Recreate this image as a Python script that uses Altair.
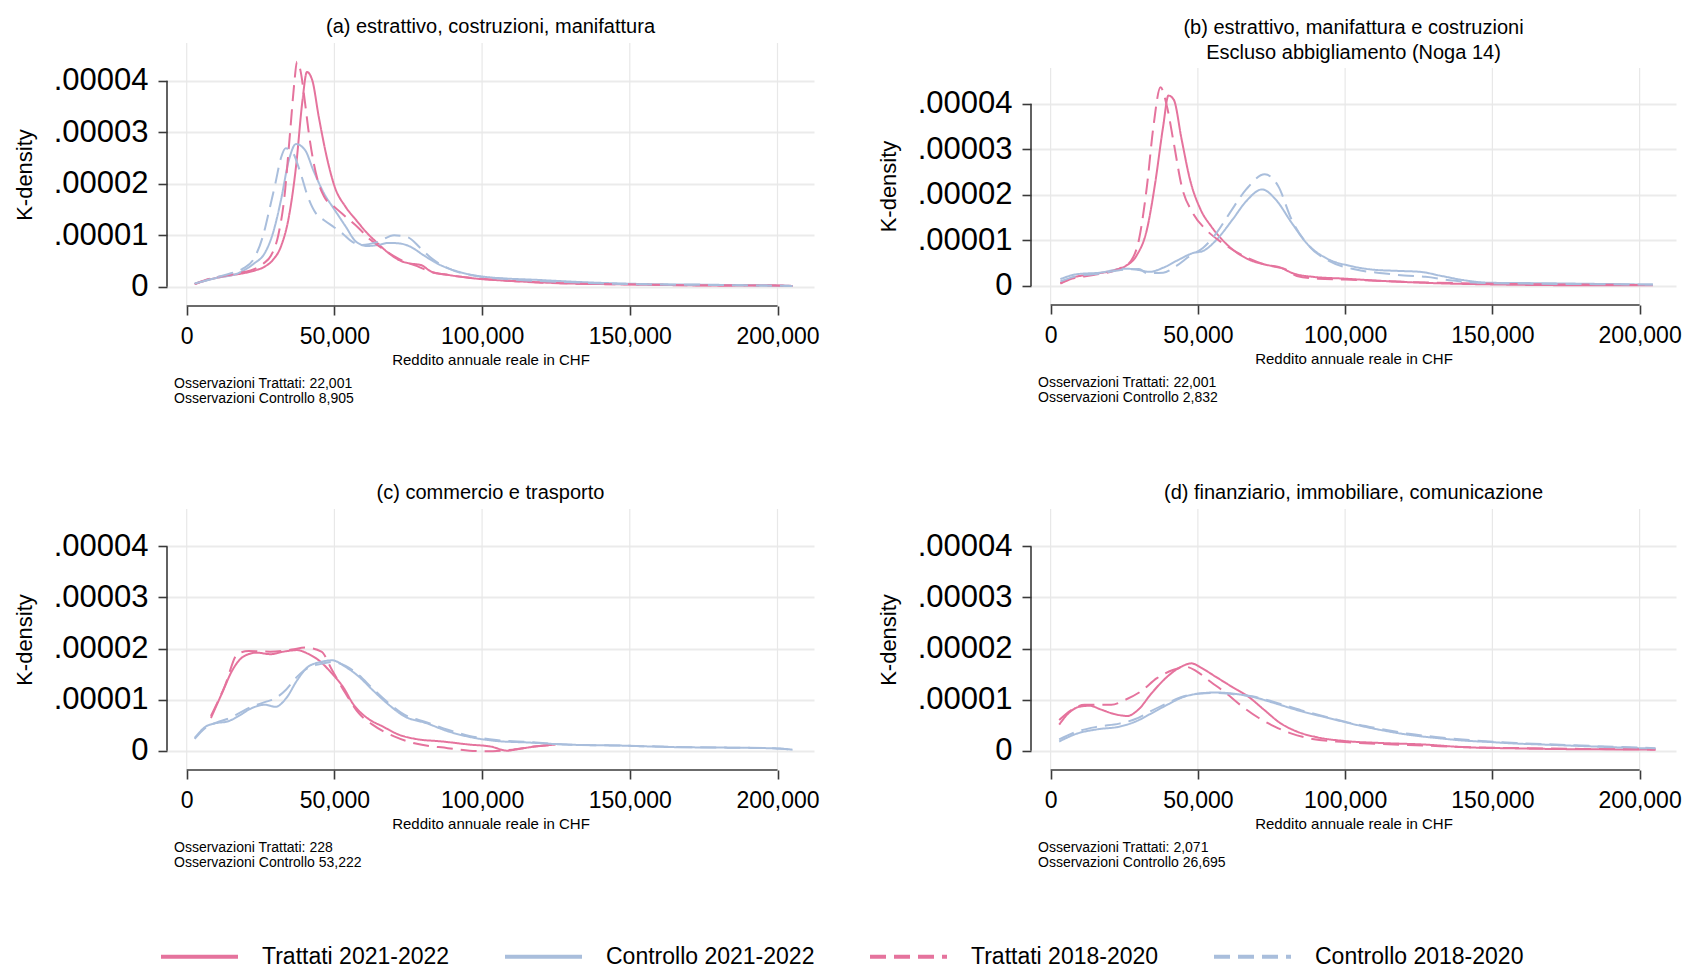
import altair as alt
import pandas as pd

# ---------------- legend / series ----------------
SERIE = ["Trattati 2021-2022", "Controllo 2021-2022", "Trattati 2018-2020", "Controllo 2018-2020"]
COLORI = ["#E5739D", "#A9BEDC", "#E5739D", "#A9BEDC"]
TRATTI = [[1, 0], [1, 0], [16, 8], [16, 8]]

X_TICKS = [0, 50000, 100000, 150000, 200000]
Y_TICKS = [0, 0.00001, 0.00002, 0.00003, 0.00004]
X_TITLE = "Reddito annuale reale in CHF"
Y_TITLE = "K-density"

# densities below are in units of 1e-6
# ---------------- panel (a) ----------------
a_tr21_x = [2700, 6400, 13700, 19100, 22800, 26400, 29200, 31900, 34600, 37000, 39200, 40700, 42500, 44700, 47400, 50100, 53800, 57400, 61100, 64700, 68400, 72900, 75600, 79300, 82900, 88400, 97500, 110300, 128500, 146800, 165000, 183200, 194200, 205100]
a_tr21_y = [0.5, 1.2, 2.1, 2.6, 3.1, 3.9, 5.2, 7.8, 13.6, 23.3, 36.2, 41.7, 40.1, 33.0, 25.2, 19.4, 15.5, 12.9, 10.4, 8.4, 6.5, 4.9, 4.5, 4.2, 2.9, 2.3, 1.6, 1.1, 0.65, 0.45, 0.3, 0.2, 0.3, 0.15]
a_co21_x = [2700, 10000, 17300, 22800, 26400, 29200, 31900, 34600, 37000, 40100, 42800, 46500, 50100, 53800, 57400, 61100, 64700, 68400, 72000, 75600, 80200, 84800, 92100, 101200, 119400, 137600, 155900, 174100, 192300, 205100]
a_co21_y = [0.6, 1.7, 2.6, 4.5, 6.5, 10.4, 16.8, 24.6, 27.7, 26.5, 22.7, 18.1, 14.9, 11.7, 8.7, 7.9, 8.1, 8.5, 8.4, 7.8, 6.1, 4.5, 2.9, 1.9, 1.3, 0.8, 0.5, 0.4, 0.25, 0.15]
a_tr18_x = [2700, 6400, 13700, 19100, 22800, 26000, 28500, 31000, 33000, 35000, 36500, 37300, 38500, 40000, 41300, 43000, 44700, 46500, 50000, 54000, 58000, 62000, 66000, 70000, 74000, 78000, 82000, 88000, 97000, 110000, 130000, 150000, 170000, 190000, 205000]
a_tr18_y = [0.5, 1.3, 2.2, 2.8, 3.4, 4.5, 6.0, 10.0, 17.0, 30.0, 40.0, 43.7, 42.0, 36.0, 30.0, 24.0, 20.0, 17.5, 15.5, 13.5, 11.5, 9.2, 7.5, 6.0, 4.8, 4.0, 3.0, 2.3, 1.7, 1.1, 0.6, 0.45, 0.3, 0.25, 0.15]
a_co18_x = [2700, 10000, 15000, 19000, 22800, 25900, 28000, 30000, 31900, 33500, 35600, 38300, 41000, 43800, 46500, 50000, 53000, 55600, 59300, 64700, 70200, 74800, 79300, 82900, 88400, 97500, 110300, 128500, 150000, 175000, 205000]
a_co18_y = [0.6, 1.8, 2.6, 3.5, 5.5, 10.0, 15.0, 20.0, 25.0, 26.9, 26.3, 22.5, 17.5, 14.2, 12.9, 11.5, 10.2, 8.9, 8.1, 8.7, 10.0, 9.6, 7.4, 5.5, 3.6, 2.1, 1.4, 0.9, 0.5, 0.35, 0.15]

# ---------------- panel (b) ----------------
b_tr21_x = [3300, 7300, 14500, 21800, 25500, 29100, 32700, 35500, 38200, 40000, 41800, 44500, 47300, 50900, 54500, 58200, 61800, 67300, 72700, 78200, 81800, 89100, 100000, 112700, 130900, 149100, 167300, 185500, 204500]
b_tr21_y = [0.6, 1.8, 2.6, 3.5, 4.4, 6.6, 12.4, 22.6, 35.0, 41.8, 40.9, 32.1, 23.4, 16.8, 13.1, 10.2, 8.0, 5.8, 4.7, 4.0, 2.9, 2.0, 1.6, 1.1, 0.6, 0.35, 0.2, 0.15, 0.15]
b_co21_x = [3300, 9100, 16400, 25500, 30000, 33600, 38200, 43600, 48200, 51800, 56400, 61800, 66400, 71800, 76400, 81800, 87300, 94500, 101800, 109100, 118200, 125500, 132700, 140000, 149100, 167300, 185500, 204500]
b_co21_y = [1.5, 2.6, 2.9, 3.8, 3.5, 3.1, 4.0, 5.8, 7.2, 7.7, 10.2, 14.6, 18.6, 21.2, 19.0, 13.9, 9.1, 5.8, 4.4, 3.6, 3.3, 3.1, 2.2, 1.3, 0.7, 0.6, 0.45, 0.3]
b_tr18_x = [3300, 7300, 14500, 21800, 25500, 27300, 30000, 32700, 34900, 37300, 39500, 41800, 44500, 48200, 52700, 58200, 65500, 72700, 80000, 83600, 90900, 100000, 120000, 150000, 180000, 204500]
b_tr18_y = [0.5, 1.6, 2.4, 3.4, 4.6, 5.5, 10.2, 21.9, 35.0, 43.6, 39.4, 31.4, 21.9, 16.1, 12.4, 9.5, 6.6, 4.7, 3.6, 2.2, 1.6, 1.4, 0.9, 0.5, 0.3, 0.2]
b_co18_x = [3300, 9100, 16400, 25500, 30000, 32700, 38200, 42700, 47300, 51800, 56400, 60900, 66400, 72700, 77300, 81800, 87300, 94500, 103600, 112700, 120000, 127300, 136400, 145500, 165000, 185000, 204500]
b_co18_y = [1.0, 2.2, 2.7, 3.6, 3.7, 2.8, 2.9, 4.4, 6.6, 8.4, 11.7, 16.1, 21.2, 24.5, 21.9, 14.6, 9.1, 5.5, 3.6, 2.8, 2.3, 2.0, 1.2, 0.7, 0.5, 0.4, 0.3]

# ---------------- panel (c) ----------------
c_tr21_x = [8200, 11900, 15500, 19100, 23700, 28300, 32800, 37400, 41000, 44700, 49200, 52900, 56500, 61100, 66500, 72000, 77500, 86600, 95700, 103000, 108500, 112100, 117600, 124900]
c_tr21_y = [6.4, 11.2, 15.8, 18.4, 19.2, 18.9, 19.4, 19.7, 19.0, 17.7, 15.1, 12.5, 9.0, 6.4, 4.7, 3.1, 2.3, 1.8, 1.2, 0.8, 0.0, 0.3, 0.8, 1.2]
c_co21_x = [2700, 6400, 10000, 13700, 17300, 21900, 26400, 30100, 33700, 37400, 41000, 45600, 49200, 53800, 58300, 62900, 68400, 73800, 81100, 88400, 95700, 104800, 115800, 128500, 146800, 165000, 183200, 199600, 205100]
c_co21_y = [2.5, 4.7, 5.4, 5.7, 6.7, 8.3, 9.0, 8.6, 10.3, 13.8, 16.4, 17.4, 17.7, 16.4, 14.5, 11.9, 9.0, 6.7, 5.4, 3.8, 2.7, 1.9, 1.6, 1.2, 1.0, 0.7, 0.6, 0.45, 0.2]
c_tr18_x = [8200, 12800, 17300, 21000, 28300, 35600, 40100, 45600, 49200, 53800, 58300, 62900, 70200, 77500, 88400, 95700, 101200, 110300, 117600, 124900]
c_tr18_y = [6.8, 12.5, 19.0, 19.5, 19.4, 19.8, 20.2, 19.4, 15.8, 11.2, 7.3, 5.1, 2.8, 1.4, 0.5, 0.0, -0.1, 0.2, 0.8, 1.2]
c_co18_x = [2700, 6400, 10000, 13700, 17300, 21900, 26400, 30100, 33700, 37400, 41000, 45600, 49200, 53800, 58300, 62900, 68400, 73800, 81100, 88400, 95700, 104800, 115800, 128500, 146800, 165000, 183200, 199600, 205100]
c_co18_y = [2.3, 4.5, 5.5, 6.2, 7.2, 8.6, 9.5, 10.3, 12.0, 14.5, 16.2, 17.0, 17.4, 16.6, 14.8, 12.2, 9.3, 7.0, 5.6, 4.1, 2.9, 2.1, 1.7, 1.2, 1.0, 0.75, 0.6, 0.45, 0.2]

# ---------------- panel (d) ----------------
d_tr21_x = [2900, 6000, 9700, 13300, 16900, 21500, 26000, 29700, 34200, 39600, 44200, 47800, 51500, 56000, 61600, 67100, 72500, 78000, 83400, 90700, 99800, 112600, 127100, 139900, 158100, 176300, 194500, 205400]
d_tr21_y = [5.1, 7.3, 8.6, 8.8, 8.1, 7.2, 6.8, 8.0, 11.2, 14.5, 16.4, 17.1, 16.1, 14.5, 12.5, 10.6, 8.0, 5.4, 3.8, 2.6, 1.9, 1.5, 1.2, 0.7, 0.45, 0.3, 0.25, 0.2]
d_co21_x = [2900, 8700, 16000, 23300, 28800, 34200, 39600, 45000, 50600, 56000, 61600, 68900, 76100, 85200, 94400, 103500, 112600, 121700, 130800, 139900, 149000, 158100, 167200, 176300, 185400, 194500, 205400]
d_co21_y = [1.8, 3.3, 4.2, 4.7, 5.7, 7.3, 9.0, 10.5, 11.2, 11.4, 11.2, 10.5, 9.3, 7.7, 6.4, 5.1, 4.0, 3.1, 2.5, 2.0, 1.7, 1.4, 1.2, 1.0, 0.8, 0.6, 0.4]
d_tr18_x = [2900, 6900, 11500, 16000, 20600, 25100, 30600, 36100, 41500, 46100, 49700, 54300, 59700, 65200, 70700, 76100, 81600, 88900, 99800, 112600, 127100, 139900, 160000, 180000, 205400]
d_tr18_y = [6.0, 7.9, 9.0, 9.0, 9.0, 9.9, 11.6, 14.2, 15.8, 16.4, 15.5, 13.5, 11.2, 8.6, 6.4, 4.7, 3.4, 2.3, 1.7, 1.3, 1.0, 0.7, 0.5, 0.35, 0.25]
d_co18_x = [2900, 8700, 16000, 23300, 28800, 34200, 39600, 45000, 50600, 56000, 61600, 68900, 76100, 85200, 94400, 103500, 112600, 121700, 130800, 139900, 149000, 158100, 167200, 176300, 185400, 194500, 205400]
d_co18_y = [2.2, 3.7, 4.7, 5.3, 6.2, 7.8, 9.3, 10.6, 11.2, 11.3, 11.1, 10.6, 9.5, 7.9, 6.5, 5.2, 4.2, 3.3, 2.7, 2.2, 1.8, 1.5, 1.3, 1.1, 0.9, 0.7, 0.5]

TITOLI = {
    "a": "(a) estrattivo, costruzioni, manifattura",
    "b": ["(b) estrattivo, manifattura e costruzioni", "Escluso abbigliamento (Noga 14)"],
    "c": "(c) commercio e trasporto",
    "d": "(d) finanziario, immobiliare, comunicazione",
}
NOTE = {
    "a": ["Osservazioni Trattati: 22,001", "Osservazioni Controllo 8,905"],
    "b": ["Osservazioni Trattati: 22,001", "Osservazioni Controllo 2,832"],
    "c": ["Osservazioni Trattati: 228", "Osservazioni Controllo 53,222"],
    "d": ["Osservazioni Trattati: 2,071", "Osservazioni Controllo 26,695"],
}

X_DOM = [-6670, 212356]

LEG = dict(title=None, orient="none", legendX=-8, legendY=873, direction="horizontal",
           columns=4, symbolType="stroke", symbolSize=5929, symbolStrokeWidth=4,
           labelFontSize=23, labelOffset=22, columnPadding=47, labelLimit=400,
           labelColor="black", padding=0)


def pannello(key, serie, width, height, y_dom, grid_top, title_offset=5, y_title_y=None):
    rows = []
    for nome, (xs, ys) in zip(SERIE, serie):
        for xv, yv in zip(xs, ys):
            rows.append({"reddito": xv, "densita": yv * 1e-6, "serie": nome})
    df = pd.DataFrame(rows)
    xsc = alt.Scale(domain=X_DOM, nice=False, zero=False)
    ysc = alt.Scale(domain=y_dom, nice=False, zero=False)
    y_axis_kw = dict(values=Y_TICKS, title=Y_TITLE,
                     labelExpr="datum.value == 0 ? '0' : substring(format(datum.value, '.5f'), 1)")
    if y_title_y is not None:
        y_axis_kw["titleY"] = y_title_y
    # vertical grid lines (drawn as rules so that they stop at the plot region top)
    grid_df = pd.DataFrame({"reddito": X_TICKS, "g0": [y_dom[0]] * len(X_TICKS), "g1": [grid_top] * len(X_TICKS)})
    griglia = alt.Chart(grid_df).mark_rule(color="#e8e8e8", strokeWidth=1.2).encode(
        x=alt.X("reddito:Q", scale=xsc, title=X_TITLE), y=alt.Y("g0:Q", scale=ysc, title=Y_TITLE), y2="g1:Q")
    linee = alt.Chart(df).mark_line(strokeWidth=2, interpolate="monotone").encode(
        x=alt.X("reddito:Q", scale=xsc,
                axis=alt.Axis(values=X_TICKS, format=",d", title=X_TITLE, grid=False)),
        y=alt.Y("densita:Q", scale=ysc, axis=alt.Axis(**y_axis_kw)),
        color=alt.Color("serie:N", scale=alt.Scale(domain=SERIE, range=COLORI), legend=alt.Legend(**LEG)),
        strokeDash=alt.StrokeDash("serie:N", scale=alt.Scale(domain=SERIE, range=TRATTI), legend=alt.Legend(**LEG)),
        detail="serie:N",
    )
    ax_df = pd.DataFrame({"x0": [X_TICKS[0]], "x1": [X_TICKS[-1]], "y0": [Y_TICKS[0]], "y1": [Y_TICKS[-1]]})
    asse_x = alt.Chart(ax_df).mark_rule(color="#3a3a3a", strokeWidth=1.6).encode(
        x=alt.X("x0:Q", scale=xsc, title=X_TITLE), x2="x1:Q", y=alt.value(height))
    asse_y = alt.Chart(ax_df).mark_rule(color="#3a3a3a", strokeWidth=1.6).encode(
        y=alt.Y("y0:Q", scale=ysc, title=Y_TITLE), y2="y1:Q", x=alt.value(0))
    note_df = pd.DataFrame({"nota": ["\n".join(NOTE[key])]})
    note = alt.Chart(note_df).mark_text(align="left", baseline="alphabetic", fontSize=14,
                                        lineBreak="\n", lineHeight=15, color="black").encode(
        text="nota:N", x=alt.value(7), y=alt.value(height + 82))
    return alt.layer(griglia, linee, asse_x, asse_y, note).properties(
        width=width, height=height, title=alt.Title(TITOLI[key], offset=title_offset))


pa = pannello("a", [(a_tr21_x, a_tr21_y), (a_co21_x, a_co21_y), (a_tr18_x, a_tr18_y), (a_co18_x, a_co18_y)],
              647, 263, [-3.75e-6, 4.732e-5], 4.732e-5)
pb = pannello("b", [(b_tr21_x, b_tr21_y), (b_co21_x, b_co21_y), (b_tr18_x, b_tr18_y), (b_co18_x, b_co18_y)],
              645, 262, [-4.18e-6, 5.334e-5], 4.785e-5, title_offset=-20, y_title_y=143)
pc = pannello("c", [(c_tr21_x, c_tr21_y), (c_co21_x, c_co21_y), (c_tr18_x, c_tr18_y), (c_co18_x, c_co18_y)],
              647, 261, [-3.78e-6, 4.733e-5], 4.733e-5)
pd_ = pannello("d", [(d_tr21_x, d_tr21_y), (d_co21_x, d_co21_y), (d_tr18_x, d_tr18_y), (d_co18_x, d_co18_y)],
               645, 261, [-3.78e-6, 4.733e-5], 4.733e-5)

chart = alt.concat(
    pa, pb, pc, pd_, columns=2, spacing={"row": 77, "column": 57},
).properties(
    padding={"left": 13, "top": 17, "right": 0, "bottom": 0},
).configure(
    font="Liberation Sans"
).configure_view(
    stroke=None
).configure_axis(
    gridColor="#ebebeb", gridWidth=1.8, domain=False,
    tickColor="#3a3a3a", tickWidth=1.6, tickSize=9,
    labelColor="black", titleColor="black", titleFontWeight="normal",
    labelFlush=False, labelOverlap=False,
).configure_axisX(
    labelFontSize=23, labelPadding=10, titleFontSize=15, titlePadding=4
).configure_axisY(
    grid=True, labelFontSize=31, labelPadding=10, titleFontSize=22, titlePadding=17
).configure_title(
    fontSize=20, fontWeight="normal", color="black", lineHeight=25, anchor="middle"
)

chart.save("out.html", embed_options={"renderer": "svg", "actions": False})
